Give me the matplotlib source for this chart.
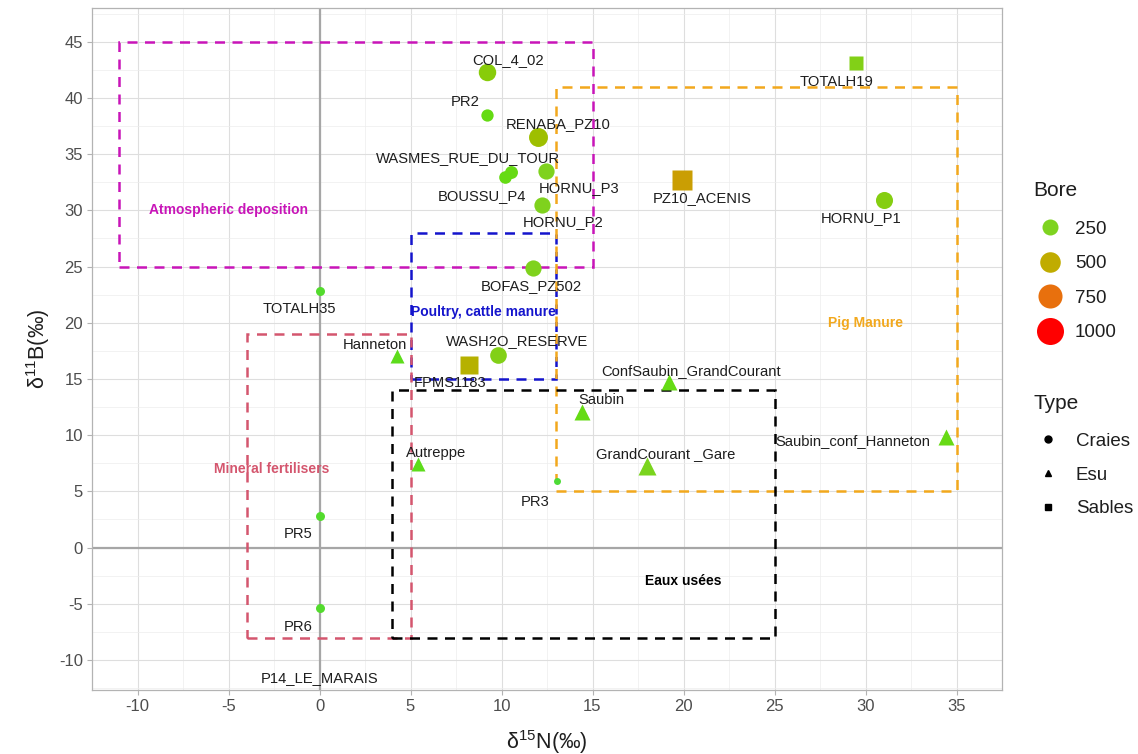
import numpy as np
import matplotlib
matplotlib.use("Agg")
import matplotlib.pyplot as plt
from matplotlib.colors import LinearSegmentedColormap
from matplotlib.lines import Line2D
from matplotlib.patches import Rectangle

plt.rcParams['font.family'] = ['Liberation Sans', 'DejaVu Sans']
plt.rcParams['mathtext.fontset'] = 'custom'
plt.rcParams['mathtext.rm'] = 'Liberation Sans'
plt.rcParams['mathtext.it'] = 'Liberation Sans:italic'
plt.rcParams['mathtext.bf'] = 'Liberation Sans:bold'
plt.rcParams['axes.unicode_minus'] = False

# ---------------- data ----------------
names = ["COL_4_02", "PR2", "RENABA_PZ10", "WASMES_RUE_DU_TOUR", "BOUSSU_P4",
         "HORNU_P3", "HORNU_P2", "BOFAS_PZ502", "TOTALH35", "WASH2O_RESERVE",
         "FPMS1183", "Hanneton", "Autreppe", "PR3", "Saubin",
         "ConfSaubin_GrandCourant", "GrandCourant _Gare", "Saubin_conf_Hanneton",
         "TOTALH19", "PZ10_ACENIS", "HORNU_P1", "PR5", "PR6", "P14_LE_MARAIS"]
d15N = [9.2, 9.2, 12.0, 10.5, 10.2, 12.45, 12.25, 11.75, 0.0, 9.8,
        8.2, 4.25, 5.4, 13.05, 14.4, 19.2, 18.0, 34.4,
        29.5, 19.9, 31.0, 0.0, 0.0, 0.0]
d11B = [42.3, 38.5, 36.5, 33.4, 33.0, 33.5, 30.5, 24.9, 22.8, 17.1,
        16.2, 17.0, 7.45, 5.9, 12.1, 14.7, 7.3, 9.85,
        43.1, 32.7, 30.9, 2.8, -5.4, -10.0]
bore = [320, 110, 400, 130, 120, 260, 260, 260, 33, 280,
        470, 80, 80, 8, 120, 120, 230, 130,
        280, 560, 300, 33, 33, np.nan]
types = ["Craies", "Craies", "Craies", "Craies", "Craies", "Craies", "Craies",
         "Craies", "Craies", "Craies", "Sables", "Esu", "Esu", "Craies", "Esu",
         "Esu", "Esu", "Esu", "Sables", "Sables", "Craies", "Craies", "Craies",
         "Craies"]

# source zones: label, xmin, xmax, ymin, ymax, label x, label y
zone_labels = ["Atmospheric deposition", "Poultry, cattle manure", "Pig Manure",
               "Mineral fertilisers", "Eaux usées"]
zone_xmin = [-11, 5, 13, -4, 4]
zone_xmax = [15, 13, 35, 5, 25]
zone_ymin = [25, 15, 5, -8, -8]
zone_ymax = [45, 28, 41, 19, 14]
zone_tx = [-5, 9, 30, -2.6, 20]
zone_ty = [30, 21, 20, 7, -3]

bore_legend = [250, 500, 750, 1000]
type_legend = ["Craies", "Esu", "Sables"]

x_ticks = [-10, -5, 0, 5, 10, 15, 20, 25, 30, 35]
y_ticks = [-10, -5, 0, 5, 10, 15, 20, 25, 30, 35, 40, 45]
x_lim = (-12.25, 37.25)
y_lim = (-12.67, 48.0)

# ---------------- styles ----------------
zone_colors = ["#C815B8", "#1414CC", "#F2A81D", "#D4566E", "#000000"]
type_marker = {"Craies": "o", "Esu": "^", "Sables": "s"}
type_scale = {"Craies": 1.0, "Esu": 1.22, "Sables": 0.886}
# label offsets in pixels (dx, dy) relative to the point, screen y up
label_off = [(21, 12), (-22, 13), (20, 13), (-43, 14), (-23, -19),
             (33, -17), (21, -17), (-2, -18), (-20, -18), (19, 14),
             (-19, -18), (-22, 11), (18, 11), (-22, -21), (20, 12),
             (22, 11), (19, 11), (-93, -4), (-20, -19), (21, -18),
             (-23, -18), (-21, -18), (-21, -19), (0, -18)]

cmap = LinearSegmentedColormap.from_list(
    "bore", [(0.0, "#4CDB3A"), (0.10, "#62DC12"), (0.25, "#7ED320"),
             (0.35, "#8DC800"), (0.5, "#C0AC00"), (0.75, "#E8710D"),
             (1.0, "#FF0000")])


def bore_color(b):
    return cmap(min(max(b / 1000.0, 0), 1))


def bore_diam_px(b):
    return 5 + 0.696 * np.sqrt(b)


PX2PT = 72.0 / 100.0

fig = plt.figure(figsize=(11.38, 7.54), dpi=100)
ax = fig.add_axes([92 / 1138, 1 - 690 / 754, 910 / 1138, 682 / 754])

ax.set_xlim(*x_lim)
ax.set_ylim(*y_lim)
ax.set_xticks(x_ticks)
ax.set_yticks(y_ticks)
ax.set_xticks(np.arange(-12.5, 38, 2.5), minor=True)
ax.set_yticks(np.arange(-12.5, 48, 2.5), minor=True)
ax.grid(which='major', color='#DEDEDE', lw=0.8, zorder=0)
ax.grid(which='minor', color='#EDEDED', lw=0.5, zorder=0)
ax.set_axisbelow(True)
for s in ax.spines.values():
    s.set_color('#B3B3B3')
    s.set_linewidth(0.9)
ax.tick_params(which='major', length=3.5, color='#B3B3B3', labelsize=12,
               labelcolor='#4D4D4D', pad=3)
ax.tick_params(which='minor', length=0)

ax.axhline(0, color='#A6A6A6', lw=1.6, zorder=1)
ax.axvline(0, color='#A6A6A6', lw=1.6, zorder=1)

# zones
for lab, x0, x1, y0, y1, tx, ty, c in zip(zone_labels, zone_xmin, zone_xmax,
                                          zone_ymin, zone_ymax, zone_tx,
                                          zone_ty, zone_colors):
    ax.add_patch(Rectangle((x0, y0), x1 - x0, y1 - y0, fill=False,
                           edgecolor=c, lw=1.8, linestyle=(0, (4, 3)),
                           zorder=2))
    ax.text(tx, ty, lab, color=c, fontsize=10, fontweight='bold',
            ha='center', va='center', zorder=3)

# points
for n, x, y, b, t, off in zip(names, d15N, d11B, bore, types, label_off):
    if not np.isnan(b):
        d = bore_diam_px(b) * type_scale[t]
        ax.plot(x, y, marker=type_marker[t], ms=d * PX2PT,
                color=bore_color(b), mec='none', ls='none', zorder=4)
    ax.annotate(n, (x, y), xytext=off, textcoords='offset pixels',
                ha='center', va='center', fontsize=10.6, color='#1E1E1E',
                zorder=5)

ax.set_xlabel(r'δ$^{15}$N(‰)', fontsize=15.5, color='#1E1E1E', labelpad=10)
ax.set_ylabel(r'δ$^{11}$B(‰)', fontsize=15.5, color='#1E1E1E', labelpad=5)

# legends
FS = 13.5
bore_handles = [Line2D([], [], marker='o', ls='none', mec='none',
                       color=bore_color(b), ms=bore_diam_px(b) * PX2PT)
                for b in bore_legend]
leg1 = fig.legend(bore_handles, [str(b) for b in bore_legend], title="Bore",
                  loc='upper left', bbox_to_anchor=(1033 / 1138, 1 - 181 / 754),
                  frameon=False, fontsize=FS, title_fontsize=15,
                  labelspacing=0.93, handletextpad=0.43, handlelength=1.81,
                  borderaxespad=0, borderpad=0)
leg1._legend_box.align = "left"
leg1._legend_box.sep = 14.8
type_handles = [Line2D([], [], marker=type_marker[t], ls='none', color='black',
                       ms=5) for t in type_legend]
leg2 = fig.legend(type_handles, type_legend, title="Type", loc='upper left',
                  bbox_to_anchor=(1033 / 1138, 1 - 394 / 754), frameon=False,
                  fontsize=FS, title_fontsize=15, labelspacing=0.88,
                  handletextpad=0.69, handlelength=1.6, borderaxespad=0,
                  borderpad=0)
leg2._legend_box.align = "left"
leg2._legend_box.sep = 14.3
for lg in (leg1, leg2):
    for txt in lg.get_texts():
        txt.set_color('#1E1E1E')
    lg.get_title().set_color('#1E1E1E')

fig.savefig("out.png", dpi=100)
